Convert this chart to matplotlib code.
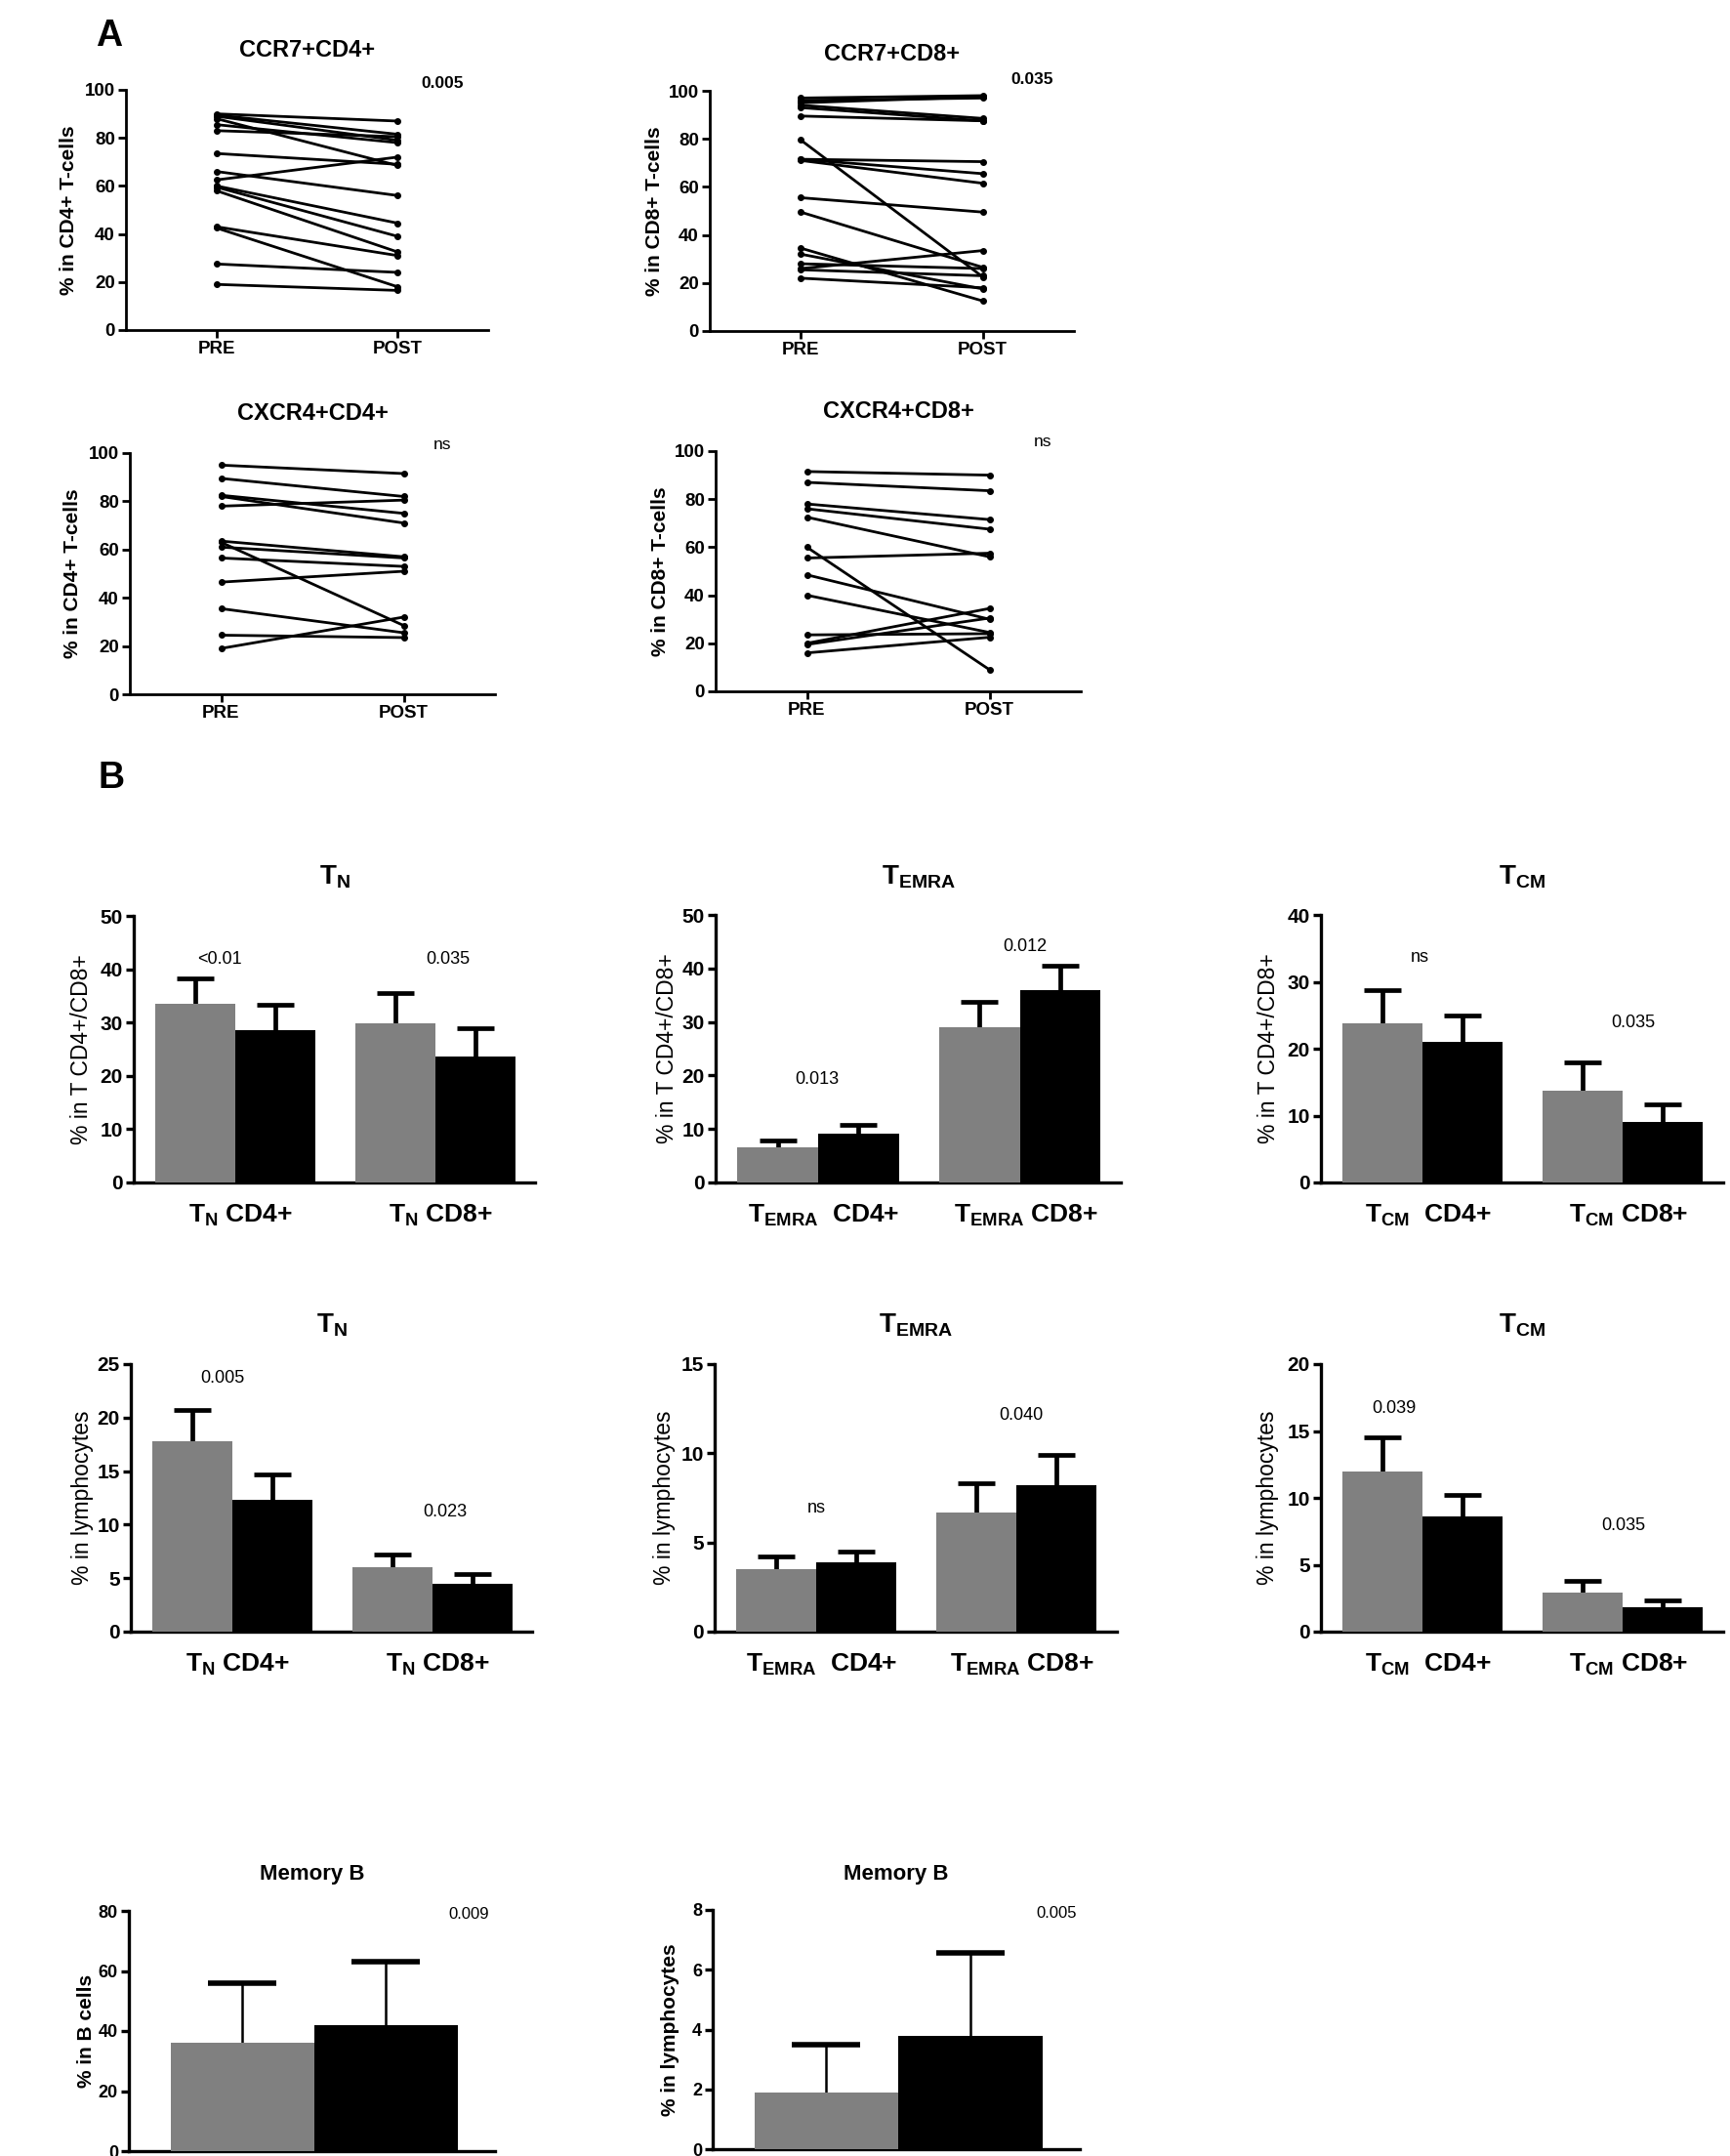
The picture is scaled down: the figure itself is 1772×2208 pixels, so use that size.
import matplotlib
matplotlib.use("Agg")
import matplotlib.pyplot as plt

plt.rcParams["font.family"] = ["Liberation Sans", "DejaVu Sans"]
plt.rcParams["mathtext.fontset"] = "custom"
plt.rcParams["mathtext.rm"] = "Liberation Sans"
plt.rcParams["mathtext.bf"] = "Liberation Sans:bold"
plt.rcParams["mathtext.it"] = "Liberation Sans:italic"
plt.rcParams["mathtext.sf"] = "Liberation Sans"

# ---- Panel A: paired PRE / POST values
ccr7_cd4_pre = [90, 89.5, 89, 88, 85.5, 83, 73.5, 66, 62.5, 60, 59.5, 58, 43, 42.5, 27.5, 19]
ccr7_cd4_post = [87, 81.5, 79, 68.5, 78, 80.5, 69, 56, 72, 44.5, 39, 32.5, 31, 18, 24, 16.5]

ccr7_cd8_pre = [97, 96, 95, 94, 93, 89.5, 79.5, 71.5, 71.5, 71, 55.5, 49.5, 34.5, 32, 28, 26, 25.5, 22]
ccr7_cd8_post = [98, 97, 97.5, 88.5, 87.5, 87.5, 22.5, 70.5, 65.5, 61.5, 49.5, 26.5, 12.5, 17.5, 26, 33.5, 23, 18]

cxcr4_cd4_pre = [95, 89.5, 82.5, 82, 78, 63.5, 63, 61, 56.5, 46.5, 35.5, 24.5, 19]
cxcr4_cd4_post = [91.5, 82, 75, 71, 80.5, 57, 28.5, 56.5, 53, 51, 25.5, 23.5, 32]

cxcr4_cd8_pre = [91.5, 87, 78, 76, 72.5, 60, 55.5, 48.5, 40, 23.5, 20, 19.5, 16]
cxcr4_cd8_post = [90, 83.5, 71.5, 67.5, 56, 9, 57.5, 30, 24.5, 24, 34.5, 30.5, 22.5]

pair_titles = ["CCR7+CD4+", "CCR7+CD8+", "CXCR4+CD4+", "CXCR4+CD8+"]
pair_ylabels = ["% in CD4+ T-cells", "% in CD8+ T-cells", "% in CD4+ T-cells", "% in CD8+ T-cells"]
pair_pvals = ["0.005", "0.035", "ns", "ns"]
time_labels = ["PRE", "POST"]

# ---- Panel B: means (PRE gray, POST black) and SEM
bar_titles = [r"$\mathbf{T}_{\mathbf{N}}$", r"$\mathbf{T}_{\mathbf{EMRA}}$", r"$\mathbf{T}_{\mathbf{CM}}$"]
group_labels = [
    [r"$\mathbf{T}_{\mathbf{N}}$ CD4+", r"$\mathbf{T}_{\mathbf{N}}$ CD8+"],
    [r"$\mathbf{T}_{\mathbf{EMRA}}$  CD4+", r"$\mathbf{T}_{\mathbf{EMRA}}$ CD8+"],
    [r"$\mathbf{T}_{\mathbf{CM}}$  CD4+", r"$\mathbf{T}_{\mathbf{CM}}$ CD8+"],
]

pct_pre = [[33.5, 29.8], [6.5, 29.0], [23.8, 13.7]]
pct_post = [[28.5, 23.6], [9.2, 35.9], [21.0, 9.1]]
pct_pre_err = [[4.8, 5.8], [1.3, 4.8], [4.9, 4.3]]
pct_post_err = [[4.8, 5.4], [1.6, 4.7], [3.9, 2.6]]
pct_ymax = [50, 50, 40]
pct_pvals = [["<0.01", "0.035"], ["0.013", "0.012"], ["ns", "0.035"]]
pct_pval_pos = [[(1.08, 41.8), (3.93, 41.8)], [(1.26, 19.2), (3.83, 44.0)], [(1.24, 33.7), (3.9, 23.8)]]

lym_pre = [[17.8, 6.0], [3.5, 6.7], [12.0, 2.9]]
lym_post = [[12.3, 4.5], [3.9, 8.2], [8.6, 1.8]]
lym_pre_err = [[2.9, 1.2], [0.7, 1.6], [2.5, 0.9]]
lym_post_err = [[2.4, 0.9], [0.6, 1.7], [1.6, 0.5]]
lym_ymax = [25, 15, 20]
lym_pvals = [["0.005", "0.023"], ["ns", "0.040"], ["0.039", "0.035"]]
lym_pval_pos = [[(1.15, 23.7), (3.93, 11.2)], [(1.27, 6.9), (3.83, 12.1)], [(0.91, 16.7), (3.78, 7.9)]]

memb_pre = [36, 1.9]
memb_post = [42, 3.8]
memb_pre_err = [20, 1.6]
memb_post_err = [21, 2.75]
memb_ymax = [80, 8]
memb_ylabels = ["% in B cells", "% in lymphocytes"]
memb_pvals = ["0.009", "0.005"]

GRAY = "#808080"
W, H = 1772, 2208
fig = plt.figure(figsize=(W / 100, H / 100), dpi=100)


def px_axes(l, r, t, b):
    return fig.add_axes([l / W, 1 - b / H, (r - l) / W, (b - t) / H])


def style(ax, lw):
    ax.spines["top"].set_visible(False)
    ax.spines["right"].set_visible(False)
    ax.spines["left"].set_linewidth(lw)
    ax.spines["bottom"].set_linewidth(lw)
    ax.tick_params(axis="y", direction="out", length=6, width=lw, labelsize=14, pad=2)
    for t in ax.get_yticklabels():
        t.set_fontweight("bold")


def ylab(ax, text, x_px, l, r, size, weight):
    ax.set_ylabel(text, fontsize=size, fontweight=weight)
    ax.yaxis.set_label_coords((x_px - l) / (r - l), 0.5)
    ax.yaxis.label.set_verticalalignment("center")


# ---- Panel A
fig.text(112 / W, 1 - 37 / H, "A", fontsize=27, fontweight="bold", ha="center", va="center")
a_boxes = [(129, 500, 92, 338), (727, 1100, 93, 339), (133, 507, 464, 711), (733, 1107, 462, 708)]
a_label_x = [70, 670, 74, 676]
a_title_y = [52, 55, 423, 422]
a_pval_pos = [(1.25, 102.5), (1.27, 104.5), (1.21, 103.6), (1.29, 103.7)]
pairs = [(ccr7_cd4_pre, ccr7_cd4_post), (ccr7_cd8_pre, ccr7_cd8_post),
         (cxcr4_cd4_pre, cxcr4_cd4_post), (cxcr4_cd8_pre, cxcr4_cd8_post)]

for i, (pre, post) in enumerate(pairs):
    l, r, t, b = a_boxes[i]
    ax = px_axes(l, r, t, b)
    for y0, y1 in zip(pre, post):
        ax.plot([0, 1], [y0, y1], color="black", lw=2.0, marker="o", ms=4, solid_capstyle="round")
    ax.set_xlim(-0.5, 1.5)
    ax.set_ylim(0, 100)
    ax.set_yticks(range(0, 101, 20))
    ax.set_xticks([0, 1])
    ax.set_xticklabels(time_labels, fontsize=13.5, fontweight="bold")
    style(ax, 2.0)
    ax.tick_params(axis="y", labelsize=13.5)
    ax.tick_params(axis="x", direction="out", length=6, width=2.0, pad=2)
    ylab(ax, pair_ylabels[i], a_label_x[i], l, r, 15, "bold")
    fig.text((l + r) / 2 / W, 1 - a_title_y[i] / H, pair_titles[i],
             fontsize=17, fontweight="bold", ha="center", va="center")
    px, py = a_pval_pos[i]
    bold = "bold" if pair_pvals[i] != "ns" else "normal"
    ax.text(px, py, pair_pvals[i], fontsize=12.5, fontweight=bold, ha="center", va="center",
            clip_on=False)

# ---- Panel B
fig.text(114 / W, 1 - 797 / H, "B", fontsize=27, fontweight="bold", ha="center", va="center")

gray_x = [0.77, 3.27]
black_x = [1.77, 4.27]
centers = [1.34, 3.84]

row_boxes = [
    [(137, 548, 938, 1211), (733, 1148, 937, 1211), (1353, 1765, 937, 1211)],
    [(134, 545, 1397, 1671), (732, 1144, 1397, 1671), (1353, 1765, 1397, 1671)],
]
row_label_x = [[83, 684, 1300], [84, 680, 1299]]
row_title_y = [898, 1357]
row_ylabel = ["% in T CD4+/CD8+", "% in lymphocytes"]
row_data = [
    (pct_pre, pct_post, pct_pre_err, pct_post_err, pct_ymax, pct_pvals, pct_pval_pos),
    (lym_pre, lym_post, lym_pre_err, lym_post_err, lym_ymax, lym_pvals, lym_pval_pos),
]

for row in range(2):
    pre, post, pre_e, post_e, ymaxes, pvals, ppos = row_data[row]
    for j in range(3):
        l, r, t, b = row_boxes[row][j]
        ax = px_axes(l, r, t, b)
        ax.bar(gray_x, pre[j], width=1.0, color=GRAY, zorder=3)
        ax.bar(black_x, post[j], width=1.0, color="black", zorder=3)
        ax.errorbar(gray_x, pre[j], yerr=pre_e[j], fmt="none", ecolor="black",
                    elinewidth=3.4, capsize=14, capthick=3.4, zorder=2)
        ax.errorbar(black_x, post[j], yerr=post_e[j], fmt="none", ecolor="black",
                    elinewidth=3.4, capsize=14, capthick=3.4, zorder=2)
        ax.set_xlim(0, 5.02)
        ax.set_ylim(0, ymaxes[j])
        step = 5 if ymaxes[j] <= 25 else 10
        ax.set_yticks(range(0, ymaxes[j] + 1, step))
        ax.set_xticks(centers)
        ax.set_xticklabels(group_labels[j], fontsize=19, fontweight="bold")
        style(ax, 2.4)
        ax.tick_params(axis="y", labelsize=15)
        ax.tick_params(axis="x", length=0, pad=15)
        ylab(ax, row_ylabel[row], row_label_x[row][j], l, r, 16.5, "normal")
        fig.text((l + r) / 2 / W, 1 - row_title_y[row] / H, bar_titles[j],
                 fontsize=20, ha="center", va="center")
        for k in range(2):
            px, py = ppos[j][k]
            ax.text(px, py, pvals[j][k], fontsize=13, ha="center", va="center")

# ---- Memory B
memb_boxes = [(132, 507, 1957, 2203), (730, 1106, 1956, 2201)]
memb_label_x = [88, 686]
memb_pval_pos = [(2.37, 78.7), (2.39, 7.87)]
narrow = ["Liberation Sans Narrow", "Liberation Sans", "DejaVu Sans"]
for i in range(2):
    l, r, t, b = memb_boxes[i]
    ax = px_axes(l, r, t, b)
    ax.bar([0.79], [memb_pre[i]], width=1.0, color=GRAY, zorder=3)
    ax.bar([1.79], [memb_post[i]], width=1.0, color="black", zorder=3)
    ax.errorbar([0.79], [memb_pre[i]], yerr=[memb_pre_err[i]], fmt="none", ecolor="black",
                elinewidth=1.8, capsize=25, capthick=4, zorder=2)
    ax.errorbar([1.79], [memb_post[i]], yerr=[memb_post_err[i]], fmt="none", ecolor="black",
                elinewidth=1.8, capsize=25, capthick=4, zorder=2)
    ax.set_xlim(0, 2.55)
    ax.set_ylim(0, memb_ymax[i])
    ax.set_yticks([memb_ymax[i] * k / 4 for k in range(5)])
    ax.set_yticklabels([f"{memb_ymax[i] * k // 4}" for k in range(5)], family=narrow, fontweight="bold")
    ax.set_xticks([])
    style(ax, 2.4)
    ax.tick_params(axis="y", labelsize=13)
    ylab(ax, memb_ylabels[i], memb_label_x[i], l, r, 15, "bold")
    fig.text((l + r) / 2 / W, 1 - 1919 / H, "Memory B", family=narrow,
             fontsize=16, fontweight="bold", ha="center", va="center")
    px, py = memb_pval_pos[i]
    ax.text(px, py, memb_pvals[i], family=narrow, fontsize=12, ha="center", va="center")

fig.savefig("out.png", dpi=100, facecolor="white")
